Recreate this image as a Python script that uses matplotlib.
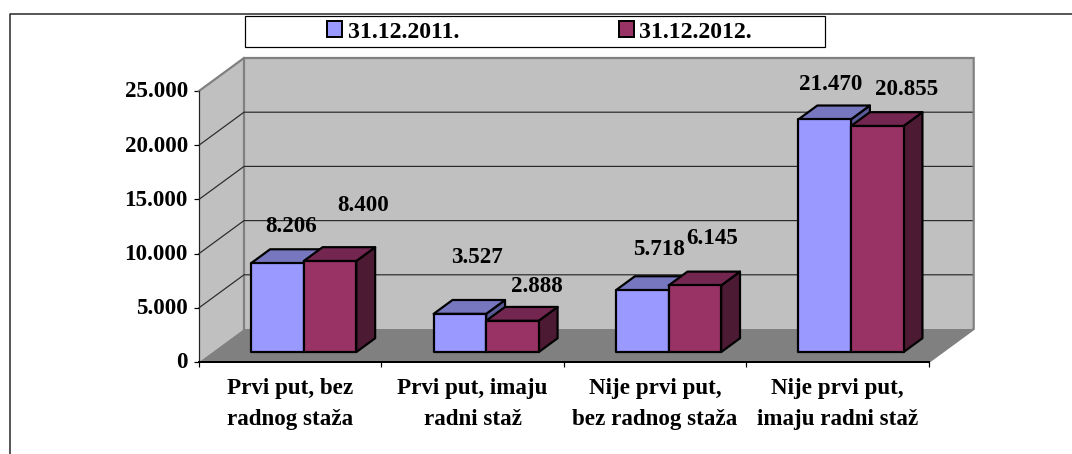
import matplotlib
matplotlib.use("Agg")
import matplotlib.pyplot as plt
from matplotlib.patches import Polygon, Rectangle, Patch
from matplotlib.lines import Line2D
from matplotlib.transforms import ScaledTranslation

categories = ["Prvi put, bez\nradnog staža", "Prvi put, imaju\nradni staž",
              "Nije prvi put,\nbez radnog staža", "Nije prvi put,\nimaju radni staž"]
series_names = ["31.12.2011.", "31.12.2012."]
values_2011 = [8206, 3527, 5718, 21470]
values_2012 = [8400, 2888, 6145, 20855]
y_ticks = [0, 5000, 10000, 15000, 20000, 25000]

# hand-placed data label offsets (pixels from bar top centre)
offsets_2011 = [(13.6, 37), (17, 56), (17, 41), (5.5, 35)]
offsets_2012 = [(33, 56), (24, 34), (17, 47), (29, 37)]

W, H = 1072, 454
plt.rcParams["font.family"] = ["Liberation Serif", "DejaVu Serif"]
plt.rcParams["font.weight"] = "bold"
FS = 16.6
PX = 72 / 100

fig = plt.figure(figsize=(W / 100, H / 100), dpi=100, facecolor="white")
ax = fig.add_axes([199 / W, 1 - 362 / H, 729.7 / W, 271 / H])
ax.set_xlim(0, 4)
ax.set_ylim(0, 25000)
ax.patch.set_visible(False)

# oblique depth: z = 1 is the back wall
DX = 45 / 182.4
DY = 33 / 271 * 25000


def P(x, y, z=0.0):
    return (x + z * DX, y + z * DY)


def poly(pts, fc, ec="none", lw=0.0, z=1):
    ax.add_patch(Polygon(pts, closed=True, facecolor=fc, edgecolor=ec, linewidth=lw,
                         zorder=z, clip_on=False, joinstyle="round"))


ymax = y_ticks[-1]
WALL, FLOOR, EDGE = "#C0C0C0", "#808080", "#808080"
poly([P(0, 0, 1), P(4, 0, 1), P(4, ymax, 1), P(0, ymax, 1)], WALL, z=1)
poly([P(0, 0, 0), P(0, 0, 1), P(0, ymax, 1), P(0, ymax, 0)], WALL, z=1)
poly([P(0, 0, 0), P(4, 0, 0), P(4, 0, 1), P(0, 0, 1)], FLOOR, z=1.2)

for v in y_ticks[1:-1]:
    pts = [P(0, v, 0), P(0, v, 1), P(4, v, 1)]
    ax.plot(*zip(*pts), color="#2A2A2A", lw=1.0 * PX * 1.2, zorder=1.5, clip_on=False)

outline = [P(0, ymax, 0), P(0, ymax, 1), P(4, ymax, 1), P(4, 0, 1), P(4, 0, 0)]
ax.plot(*zip(*outline), color=EDGE, lw=2.2 * PX, zorder=1.6, clip_on=False,
        solid_joinstyle="miter")
ax.plot(*zip(*[P(0, 0, 1), P(0, ymax, 1)]), color=EDGE, lw=2.2 * PX, zorder=1.1, clip_on=False)

# bars
BAR_W = 0.288
GAP = 0.212
Z0, Z1 = 0.30, 0.72
styles = [("#9999FF", "#7777C0", "#5A5A99"), ("#993366", "#732650", "#4D1A33")]
all_vals = [values_2011, values_2012]
all_off = [offsets_2011, offsets_2012]
for i in range(len(categories)):
    for j, vals in enumerate(all_vals):
        v = vals[i]
        x0 = i + GAP + j * BAR_W
        x1 = x0 + BAR_W
        front, top, side = styles[j]
        zz = 5 + i * 4 + j * 2
        poly([P(x1, 0, Z0), P(x1, 0, Z1), P(x1, v, Z1), P(x1, v, Z0)], side, "black", 2.2 * PX, zz)
        poly([P(x0, v, Z0), P(x1, v, Z0), P(x1, v, Z1), P(x0, v, Z1)], top, "black", 2.2 * PX, zz)
        poly([P(x0, 0, Z0), P(x1, 0, Z0), P(x1, v, Z0), P(x0, v, Z0)], front, "black", 2.2 * PX, zz + 1)
        ax.annotate(f"{v:,}".replace(",", "."), xy=P((x0 + x1) / 2, v, Z0),
                    xytext=all_off[j][i], textcoords="offset pixels",
                    ha="center", va="center", fontsize=FS, fontweight="bold",
                    color="black", zorder=50, annotation_clip=False)

# axes
for s in ("top", "right"):
    ax.spines[s].set_visible(False)
ax.spines["left"].set_linewidth(1.2 * PX)
ax.spines["left"].set_color("#222222")
ax.spines["bottom"].set_linewidth(2.0 * PX)
ax.spines["bottom"].set_color("black")
ax.spines["bottom"].set_zorder(3)
ax.set_yticks(y_ticks)
ax.set_yticklabels([f"{v:,}".replace(",", ".") for v in y_ticks], fontsize=FS, fontweight="bold")
ax.tick_params(axis="y", length=5 * PX, width=1.2 * PX, pad=6 * PX)
up = ScaledTranslation(0, 1.7 / 100, fig.dpi_scale_trans)
for lab in ax.get_yticklabels():
    lab.set_transform(lab.get_transform() + up)
ax.set_xticks(range(len(categories) + 1))
ax.set_xticklabels([])
ax.tick_params(axis="x", which="major", length=5 * PX, width=1.2 * PX)
ax.set_xticks([i + 0.5 for i in range(len(categories))], minor=True)
ax.set_xticklabels(categories, minor=True, fontsize=FS, fontweight="bold", linespacing=1.65)
ax.tick_params(axis="x", which="minor", length=0, pad=16 * PX)

# outer frame
fig.add_artist(Line2D([9.5 / W, 9.5 / W, 1], [0, 1 - 14 / H, 1 - 14 / H], color="#222222",
                      lw=1.5 * PX, transform=fig.transFigure))

# legend box
fig.add_artist(Rectangle((245 / W, 1 - 47 / H), 580 / W, 31 / H, facecolor="white",
                         edgecolor="black", lw=1.2 * PX, transform=fig.transFigure))
handles = [Patch(facecolor=styles[k][0], edgecolor="black", linewidth=2 * PX) for k in range(2)]
leg = fig.legend(handles, series_names, loc="center left",
                 bbox_to_anchor=(327 / W, 1 - 32 / H), frameon=False, ncol=2,
                 fontsize=17.1, borderpad=0, borderaxespad=0, handlelength=0.63,
                 handleheight=0.63, handletextpad=0.24, columnspacing=6.72)

fig.savefig("out.png", dpi=100, facecolor="white")
